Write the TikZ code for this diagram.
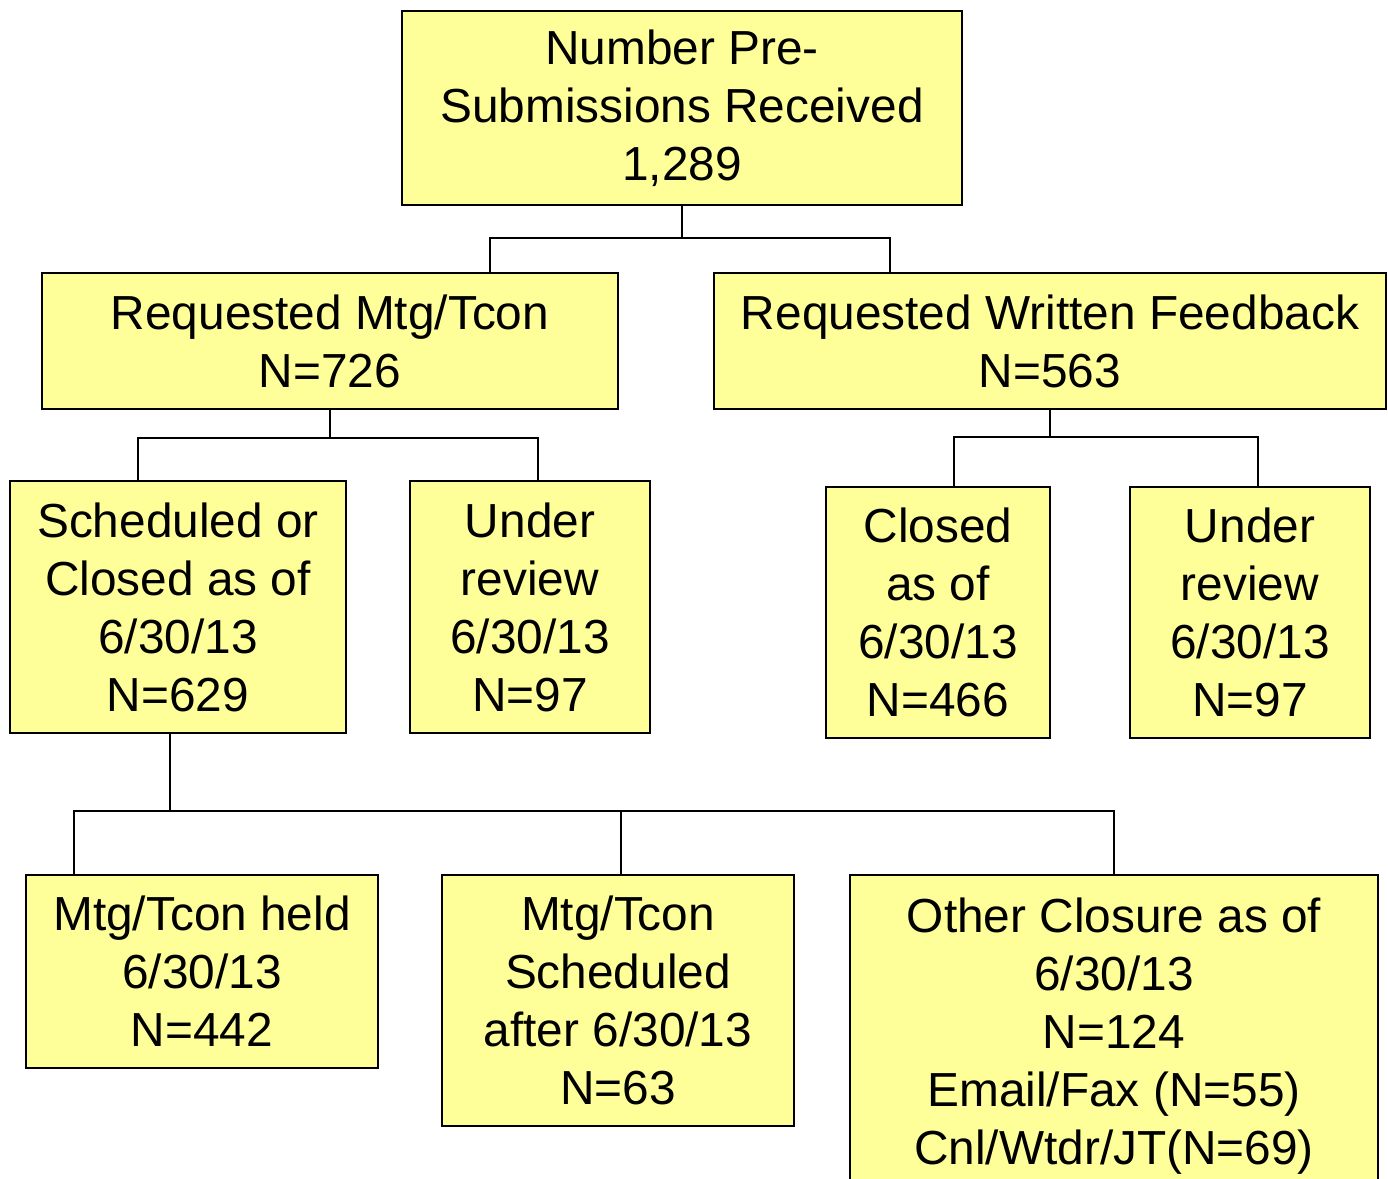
\documentclass[tikz,border=0pt]{standalone}
\usepackage{fontspec}
\setmainfont{Liberation Sans}
\definecolor{boxfill}{HTML}{FFFF99}
\begin{document}
\begin{tikzpicture}[x=0.02cm,y=-0.02cm,
  box/.style={draw=black, line width=1.2pt, fill=boxfill, inner sep=0pt, align=center,
    font=\fontsize{27.2}{33}\selectfont},
  conn/.style={draw=black, line width=1.2pt}]
\useasboundingbox (0,0) rectangle (1388,1178);
\clip (0,0) rectangle (1388,1178);
\node[box, minimum width=11.2cm, minimum height=3.88cm] (top) at (682,108) {Number Pre-\\Submissions Received\\1,289};
\node[box, minimum width=11.52cm, minimum height=2.72cm] (lmid) at (330,341) {Requested Mtg/Tcon\\N=726};
\node[box, minimum width=13.44cm, minimum height=2.72cm] (rmid) at (1050,341) {Requested Written Feedback\\N=563};
\node[box, minimum width=6.72cm, minimum height=5.04cm] (sched) at (178,607) {Scheduled or\\Closed as of\\6/30/13\\N=629};
\node[box, minimum width=4.8cm, minimum height=5.04cm] (ur1) at (530,607) {Under\\review\\6/30/13\\N=97};
\node[box, minimum width=4.48cm, minimum height=5.02cm] (closed) at (938,612.5) {Closed\\as of\\6/30/13\\N=466};
\node[box, minimum width=4.8cm, minimum height=5.02cm] (ur2) at (1250,612.5) {Under\\review\\6/30/13\\N=97};
\node[box, minimum width=7.04cm, minimum height=3.86cm] (held) at (202,971.5) {Mtg/Tcon held\\6/30/13\\N=442};
\node[box, minimum width=7.04cm, minimum height=5.02cm] (sch2) at (618,1000.5) {Mtg/Tcon\\Scheduled\\after 6/30/13\\N=63};
\node[box, minimum width=10.56cm, minimum height=6.44cm] (other) at (1114,1036) {Other Closure as of\\6/30/13\\N=124\\Email/Fax (N=55)\\Cnl/Wtdr/JT(N=69)};
% bus coordinates
\coordinate (a1) at (490,238);
\coordinate (a2) at (890,238);
\coordinate (b1) at (138,438);
\coordinate (b2) at (538,438);
\coordinate (c1) at (954,437);
\coordinate (c2) at (1258,437);
\coordinate (d0) at (170,811);
\coordinate (d1) at (74,811);
\coordinate (d2) at (621,811);
\coordinate (d3) at (1114,811);
% connectors
\draw[conn] (a1 |- lmid.north) -- (a1) -- (a2) -- (a2 |- rmid.north);
\draw[conn] (top.south) -- (top.south |- a1);
\draw[conn] (b1 |- sched.north) -- (b1) -- (b2) -- (b2 |- ur1.north);
\draw[conn] (lmid.south) -- (lmid.south |- b1);
\draw[conn] (c1 |- closed.north) -- (c1) -- (c2) -- (c2 |- ur2.north);
\draw[conn] (rmid.south) -- (rmid.south |- c1);
\draw[conn] (d0 |- sched.south) -- (d0);
\draw[conn] (d1 |- held.north) -- (d1) -- (d3) -- (d3 |- other.north);
\draw[conn] (d2) -- (d2 |- sch2.north);
\end{tikzpicture}
\end{document}
